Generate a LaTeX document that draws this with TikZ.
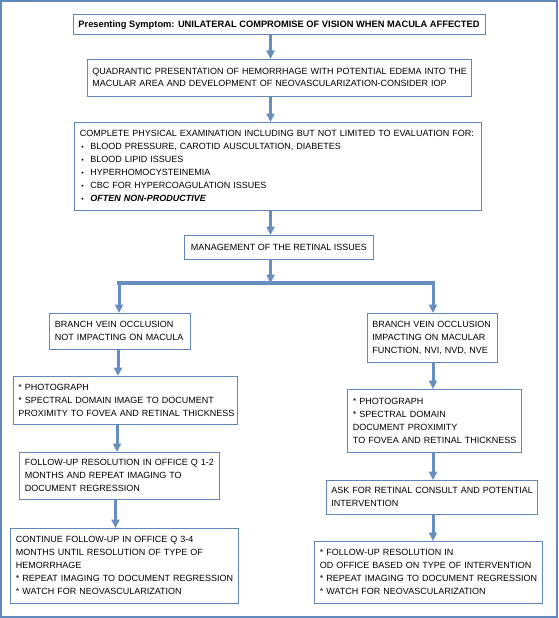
\documentclass[tikz,border=0pt]{standalone}
\usepackage{fontspec}
\setmainfont{Liberation Sans}
\usetikzlibrary{arrows.meta}
\definecolor{bcol}{RGB}{98,136,186}
\definecolor{acol}{RGB}{104,142,192}
\newcommand{\bul}{\hspace*{1.5pt}\makebox[9pt][l]{\fontsize{7}{13}\selectfont\textbullet}}
\newcommand{\lns}[1]{\begin{tabular}{@{}l@{}}#1\end{tabular}}
\begin{document}
\begin{tikzpicture}[x=1pt,y=-1pt,
  box/.style={draw=bcol,line width=0.9pt,anchor=north west,inner xsep=5.5pt,inner ysep=0pt,align=left,font=\fontsize{9}{13}\selectfont},
  cbox/.style={box,align=center},
  arr/.style={draw=acol,line width=3pt,-{Triangle[width=8pt,length=8.5pt]}},
  barline/.style={draw=acol,line width=4pt,line cap=rect}
]
\useasboundingbox (0,0) rectangle (558,618);
\draw[bcol,line width=1.3pt] (1,1) rectangle (557,617);

\node[cbox,minimum width=412pt,minimum height=19.5pt,font=\fontsize{9.3}{13}\selectfont\bfseries] (top) at (72.5,14.5)
  {Presenting Symptom: UNILATERAL COMPROMISE OF VISION WHEN MACULA AFFECTED};
\node[box,text width=373pt,minimum height=37pt,font=\fontsize{9}{12}\selectfont] (q) at (86.5,59)
  {\lns{QUADRANTIC PRESENTATION OF HEMORRHAGE WITH POTENTIAL EDEMA INTO THE\\
   MACULAR AREA AND DEVELOPMENT OF NEOVASCULARIZATION-CONSIDER IOP}};
\node[box,text width=396pt,minimum height=88pt] (exam) at (74,122)
  {\lns{COMPLETE PHYSICAL EXAMINATION INCLUDING BUT NOT LIMITED TO EVALUATION FOR:\\
   \bul BLOOD PRESSURE, CAROTID AUSCULTATION, DIABETES\\
   \bul BLOOD LIPID ISSUES\\
   \bul HYPERHOMOCYSTEINEMIA\\
   \bul CBC FOR HYPERCOAGULATION ISSUES\\
   \bul \textbf{\textit{OFTEN NON-PRODUCTIVE}}}};
\node[cbox,minimum width=189pt,minimum height=24pt] (mgmt) at (184,235)
  {MANAGEMENT OF THE RETINAL ISSUES};

\node[box,text width=130pt,minimum height=36pt] (bl) at (49,313)
  {\lns{BRANCH VEIN OCCLUSION\\NOT IMPACTING ON MACULA}};
\node[box,text width=119.5pt,minimum height=49pt] (br) at (366.5,313)
  {\lns{BRANCH VEIN OCCLUSION\\IMPACTING ON MACULAR\\FUNCTION, NVI, NVD, NVE}};
\node[box,text width=213.5pt,minimum height=48pt] (pl) at (12.5,376)
  {\lns{{*} PHOTOGRAPH\\{*} SPECTRAL DOMAIN IMAGE TO DOCUMENT\\PROXIMITY TO FOVEA AND RETINAL THICKNESS}};
\node[box,text width=163pt,minimum height=63pt] (pr) at (347,389)
  {\lns{{*} PHOTOGRAPH\\{*} SPECTRAL DOMAIN\\DOCUMENT PROXIMITY\\TO FOVEA AND RETINAL THICKNESS}};
\node[box,text width=189pt,minimum height=47pt] (fl) at (19,452)
  {\lns{FOLLOW-UP RESOLUTION IN OFFICE Q 1-2\\MONTHS AND REPEAT IMAGING TO\\DOCUMENT REGRESSION}};
\node[box,text width=200.5pt,minimum height=34pt] (ar) at (325.5,480)
  {\lns{ASK FOR RETINAL CONSULT AND POTENTIAL\\INTERVENTION}};
\node[box,text width=217pt,minimum height=75pt] (cl) at (10,528)
  {\lns{CONTINUE FOLLOW-UP IN OFFICE Q 3-4\\MONTHS UNTIL RESOLUTION OF TYPE OF\\HEMORRHAGE\\{*} REPEAT IMAGING TO DOCUMENT REGRESSION\\{*} WATCH FOR NEOVASCULARIZATION}};
\node[box,text width=217pt,minimum height=62pt] (fr) at (314,541)
  {\lns{{*} FOLLOW-UP RESOLUTION IN\\OD OFFICE BASED ON TYPE OF INTERVENTION\\{*} REPEAT IMAGING TO DOCUMENT REGRESSION\\{*} WATCH FOR NEOVASCULARIZATION}};

\coordinate (ax) at (270.5,0);
\coordinate (bar) at (0,283);
\coordinate (lx) at (119,0);
\coordinate (rx) at (433,0);
\coordinate (l2) at (118,0);
\coordinate (l3) at (117,0);
\coordinate (l4) at (115.5,0);

\draw[arr] (ax |- top.south) -- (ax |- q.north);
\draw[arr] (ax |- q.south) -- (ax |- exam.north);
\draw[arr] (ax |- exam.south) -- (ax |- mgmt.north);
\draw[barline] (lx |- bar) -- (rx |- bar);
\draw[arr] (ax |- mgmt.south) -- (ax |- bar);
\draw[arr] (lx |- bar) -- (lx |- bl.north);
\draw[arr] (rx |- bar) -- (rx |- br.north);
\draw[arr] (l2 |- bl.south) -- (l2 |- pl.north);
\draw[arr] (l3 |- pl.south) -- (l3 |- fl.north);
\draw[arr] (l4 |- fl.south) -- (l4 |- cl.north);
\draw[arr] (rx |- br.south) -- (rx |- pr.north);
\draw[arr] (rx |- pr.south) -- (rx |- ar.north);
\draw[arr] (rx |- ar.south) -- (rx |- fr.north);
\end{tikzpicture}
\end{document}
